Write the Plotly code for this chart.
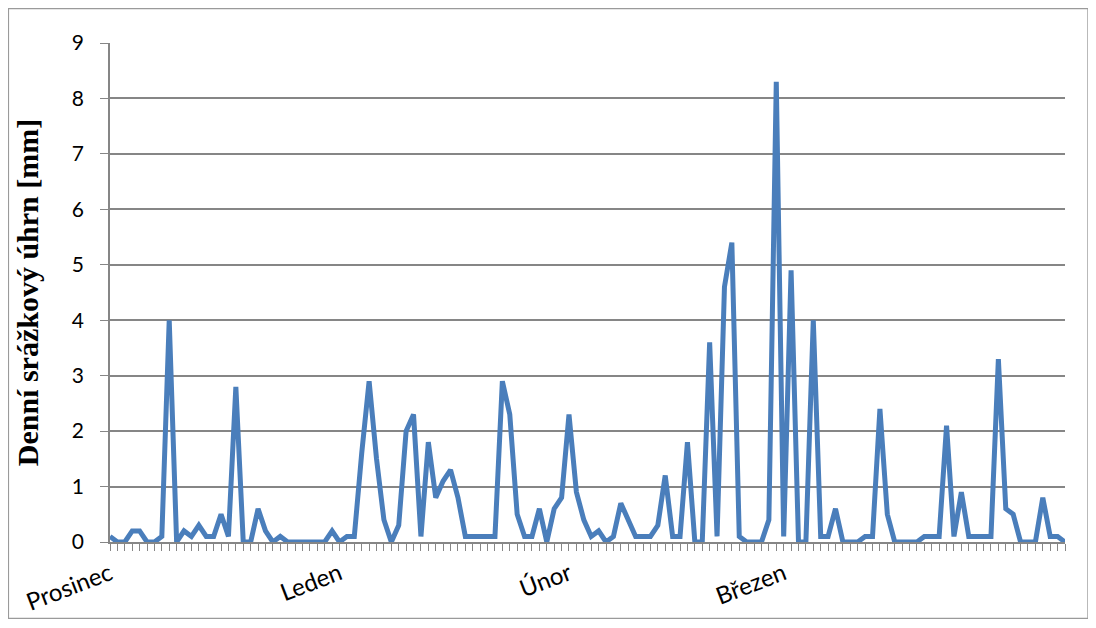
import plotly.graph_objects as go

# Daily precipitation (mm), one value per day, starting 1 December
precip = [
    0.1, 0.0, 0.0, 0.2, 0.2, 0.0, 0.0, 0.1, 4.0, 0.0,
    0.2, 0.1, 0.3, 0.1, 0.1, 0.5, 0.1, 2.8, 0.0, 0.0,
    0.6, 0.2, 0.0, 0.1, 0.0, 0.0, 0.0, 0.0, 0.0, 0.0,
    0.2, 0.0, 0.1, 0.1, 1.6, 2.9, 1.5, 0.4, 0.0, 0.3,
    2.0, 2.3, 0.1, 1.8, 0.8, 1.1, 1.3, 0.8, 0.1, 0.1,
    0.1, 0.1, 0.1, 2.9, 2.3, 0.5, 0.1, 0.1, 0.6, 0.0,
    0.6, 0.8, 2.3, 0.9, 0.4, 0.1, 0.2, 0.0, 0.1, 0.7,
    0.4, 0.1, 0.1, 0.1, 0.3, 1.2, 0.1, 0.1, 1.8, 0.0,
    0.0, 3.6, 0.1, 4.6, 5.4, 0.1, 0.0, 0.0, 0.0, 0.4,
    8.3, 0.1, 4.9, 0.0, 0.0, 4.0, 0.1, 0.1, 0.6, 0.0,
    0.0, 0.0, 0.1, 0.1, 2.4, 0.5, 0.0, 0.0, 0.0, 0.0,
    0.1, 0.1, 0.1, 2.1, 0.1, 0.9, 0.1, 0.1, 0.1, 0.1,
    3.3, 0.6, 0.5, 0.0, 0.0, 0.0, 0.8, 0.1, 0.1, 0.0,
]
days = list(range(len(precip)))

# Month labels and the day index where each month starts
month_labels = ["Prosinec", "Leden", "Únor", "Březen"]
month_start_days = [0, 31, 62, 91]

y_ticks = [0, 1, 2, 3, 4, 5, 6, 7, 8, 9]

GRID = "#868686"
LINE = "#4A7EBB"

fig = go.Figure()
fig.add_trace(go.Scatter(
    x=days, y=precip, mode="lines",
    line=dict(color=LINE, width=5),
    cliponaxis=False, showlegend=False,
))

fig.update_layout(
    width=1088, height=620,
    margin=dict(l=102, r=31, t=35, b=81),
    paper_bgcolor="white", plot_bgcolor="white",
    font=dict(family="Lato, sans-serif", color="black"),
    xaxis=dict(
        range=[0, len(precip) - 1],
        tickvals=month_start_days, ticktext=month_labels,
        tickangle=-21, tickfont=dict(size=24, family="Lato"),
        ticks="outside", ticklen=7, tickcolor=GRID, tickwidth=1.4,
        minor=dict(dtick=1, ticks="outside", ticklen=7, tickcolor=GRID, tickwidth=1.4, showgrid=False),
        showgrid=False, zeroline=False,
        showline=True, linecolor=GRID, linewidth=1.6,
    ),
    yaxis=dict(
        range=[0, 9], tickvals=y_ticks,
        tickfont=dict(size=21, family="Lato"),
        ticks="outside", ticklen=8, tickcolor=GRID, tickwidth=1.4,
        ticklabelstandoff=12,
        showgrid=True, gridcolor=GRID, gridwidth=1.6,
        zeroline=False, showline=True, linecolor=GRID, linewidth=1.6,
        title=dict(text="<b>Denní srážkový úhrn [mm]</b>",
                   font=dict(family="Liberation Serif, Times New Roman, serif", size=30),
                   standoff=24),
    ),
    shapes=[dict(type="rect", xref="paper", yref="paper",
                 x0=-0.1063, x1=1.0240, y0=-0.1530, y1=1.0690,
                 line=dict(color="#9a9a9a", width=1.2), fillcolor="rgba(0,0,0,0)", layer="below")],
)

fig.write_html("out.html")
